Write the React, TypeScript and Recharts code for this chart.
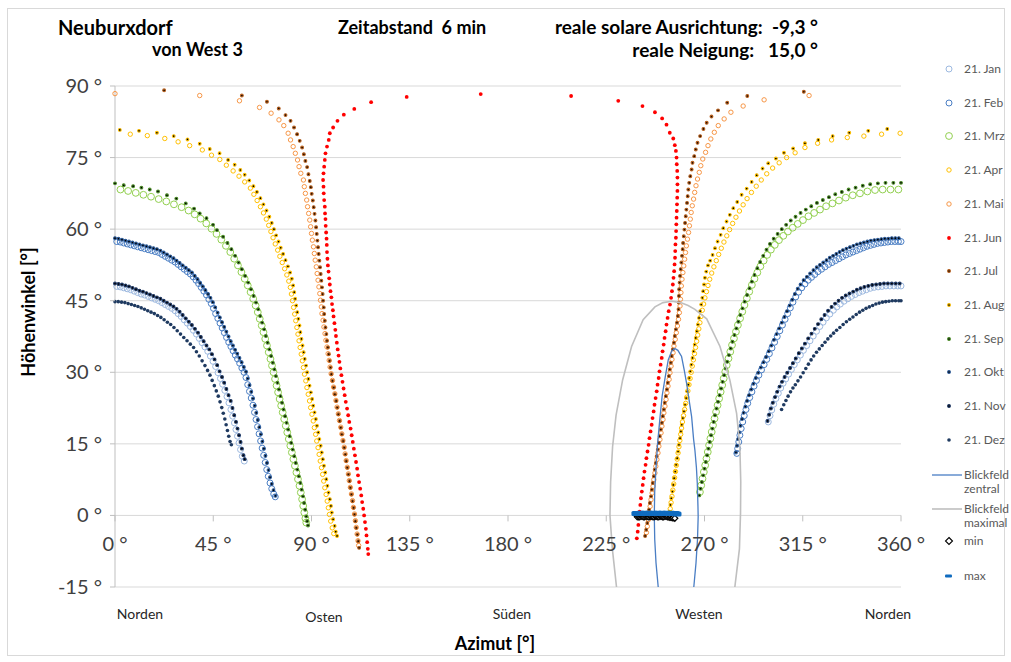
import React from 'react'
import { ScatterChart, Scatter, XAxis, YAxis, CartesianGrid } from 'recharts'

const FONT = 'Lato, "Open Sans", "Liberation Sans", sans-serif'

const azTicks = [0, 45, 90, 135, 180, 225, 270, 315, 360]
const elTicks = [-15, 0, 15, 30, 45, 60, 75, 90]
const directions = ['Norden', 'Osten', 'Süden', 'Westen', 'Norden']

// [azimut, höhenwinkel]
const jan = [
  [0.8,48.0],[2.4,47.9],[4,47.7],[5.6,47.5],[7.2,47.3],[8.8,47.0],[10.4,46.7],[12,46.4],[13.6,46.2],[15.2,45.9],[16.8,45.6],[18.4,45.3],[20,45.0],[21.5,44.6],[23,44.2],[24.5,43.8],[26,43.4],[27.5,42.9],[28.9,42.3],[30.3,41.7],[31.7,41.0],[33.1,40.3],[34.5,39.6],[35.9,38.8],[37.3,38.0],[38.6,37.1],[39.9,36.2],[41.2,35.3],[42.5,34.4],[43.7,33.4],[44.9,32.3],[46.1,31.2],[47.2,29.9],[48.3,28.7],[49.3,27.5],[50.3,26.2],[51.3,24.9],[52.2,23.6],[53.1,22.2],[53.9,20.8],[54.7,19.4],[55.4,18.0],[56.1,16.6],[56.8,15.2],[57.5,13.8],[58.3,12.4],[59.2,11.4],
  [299.2,19.6],[300,20.9],[300.8,22.1],[301.7,23.3],[302.7,24.5],[303.8,25.6],[304.9,26.7],[306,27.7],[307.2,28.6],[308.5,29.6],[309.8,30.6],[311.1,31.6],[312.5,32.6],[313.9,33.6],[315.3,34.6],[316.8,35.6],[318.3,36.6],[319.8,37.6],[321.3,38.6],[322.8,39.6],[324.3,40.5],[325.8,41.4],[327.4,42.2],[329,43.0],[330.6,43.7],[332.2,44.3],[333.9,44.9],[335.6,45.4],[337.3,45.9],[339,46.3],[340.7,46.7],[342.4,47.0],[344.1,47.3],[345.9,47.6],[347.7,47.8],[349.5,47.9],[351.3,48.0],[353.1,48.1],[354.9,48.1],[356.7,48.1],[358.5,48.1],[360,48.1],
]
const feb = [
  [0.8,57.4],[2.4,57.3],[4,57.1],[5.6,56.9],[7.2,56.7],[8.8,56.5],[10.4,56.3],[12,56.1],[13.6,55.9],[15.2,55.7],[16.8,55.5],[18.4,55.3],[20,55.1],[21.5,54.7],[23,54.3],[24.5,53.9],[26,53.5],[27.5,53.1],[28.9,52.6],[30.3,52.1],[31.7,51.6],[33.1,51.1],[34.5,50.6],[35.8,50.0],[37.1,49.3],[38.3,48.6],[39.5,47.8],[40.7,47.0],[41.9,46.2],[43,45.3],[44.1,44.4],[45.1,43.4],[46.1,42.3],[47.1,41.3],[48.1,40.3],[49.1,39.3],[50.1,38.3],[51.1,37.3],[52.1,36.3],[53.1,35.4],[54.1,34.5],[55.1,33.6],[56.1,32.8],[57.1,31.9],[58.1,30.9],[59.1,30.0],[60,28.9],[60.8,27.4],[61.6,26.0],[62.4,24.6],[63.2,23.1],[63.9,21.6],[64.6,20.1],[65.3,18.6],[66,17.1],[66.7,15.6],[67.4,14.1],[68.1,12.6],[68.8,11.1],[69.5,9.6],[70.2,8.2],[71,6.8],[71.8,5.6],[72.7,4.5],[73.4,3.9],
  [284.8,13.0],[285.2,14.0],[285.7,15.4],[286.2,16.8],[286.8,18.2],[287.5,19.6],[288.2,20.9],[289,22.2],[289.8,23.5],[290.7,24.7],[291.7,25.9],[292.7,27.1],[293.8,28.3],[294.9,29.4],[296.1,30.5],[297.3,31.6],[298.5,32.7],[299.7,33.9],[300.9,35.1],[302.1,36.3],[303.3,37.5],[304.5,38.7],[305.7,39.9],[306.9,41.1],[308.1,42.3],[309.3,43.5],[310.5,44.7],[311.8,45.8],[313.1,46.8],[314.5,47.7],[316,48.5],[317.5,49.3],[319,49.9],[320.5,50.5],[322,51.1],[323.6,51.6],[325.2,52.1],[326.8,52.6],[328.4,53.0],[330,53.4],[331.6,53.8],[333.2,54.2],[334.8,54.6],[336.4,54.9],[338,55.2],[339.6,55.5],[341.2,55.8],[342.8,56.1],[344.4,56.4],[346,56.6],[347.6,56.8],[349.2,57.0],[350.8,57.1],[352.4,57.2],[354,57.3],[355.6,57.4],[357.2,57.4],[358.8,57.4],[360,57.4],
]
const mrz = [
  [2.5,68.3],[6,68.0],[9.5,67.6],[13,67.2],[16.5,66.8],[20,66.3],[23.5,65.8],[27,65.2],[30.5,64.6],[33.7,63.9],[36.5,63.1],[39.2,62.2],[41.8,61.2],[44.2,60.1],[46.5,59.0],[48.7,57.8],[50.8,56.5],[52.8,55.2],[54.6,53.8],[56.3,52.4],[57.9,51.0],[59.4,49.6],[60.8,48.2],[62.1,46.8],[63.3,45.4],[64.4,44.0],[65.4,42.6],[66.3,41.2],[67.2,39.8],[68,38.4],[68.8,37.0],[69.6,35.6],[70.4,34.2],[71.2,32.8],[71.9,31.4],[72.6,30.0],[73.3,28.6],[74,27.2],[74.7,25.8],[75.4,24.4],[76.1,23.0],[76.8,21.6],[77.5,20.2],[78.2,18.8],[78.9,17.4],[79.6,16.0],[80.3,14.6],[81,13.2],[81.7,11.8],[82.4,10.4],[83.1,9.0],[83.8,7.6],[84.5,6.2],[85.1,4.8],[85.7,3.4],[86.2,2.0],[86.7,0.6],[87.2,-0.6],[87.6,-1.5],
  [267.9,4.9],[268.5,6.3],[269.1,7.7],[269.7,9.1],[270.3,10.5],[270.9,11.9],[271.5,13.3],[272.1,14.7],[272.7,16.1],[273.3,17.5],[273.9,18.9],[274.6,20.3],[275.3,21.7],[276,23.1],[276.7,24.5],[277.4,25.9],[278.1,27.3],[278.8,28.7],[279.5,30.1],[280.2,31.5],[281,32.9],[281.8,34.3],[282.6,35.7],[283.5,37.1],[284.4,38.5],[285.3,39.9],[286.3,41.3],[287.3,42.7],[288.3,44.1],[289.4,45.5],[290.5,46.9],[291.7,48.3],[292.9,49.6],[294.2,50.9],[295.6,52.2],[297.1,53.4],[298.7,54.6],[300.4,55.7],[302.2,56.7],[304.1,57.7],[306.1,58.6],[308.2,59.5],[310.4,60.3],[312.7,61.1],[315.1,61.9],[317.6,62.7],[320.2,63.4],[322.9,64.1],[325.7,64.8],[328.6,65.4],[331.6,66.0],[334.7,66.6],[337.9,67.1],[341.2,67.5],[344.6,67.9],[348.1,68.2],[351.6,68.3],[355.2,68.3],[358.8,68.3],
]
const apr = [
  [7,79.9],[14.8,79.6],[22.8,79.0],[28.9,78.3],[34.2,77.5],[40,76.6],[44.2,75.5],[48,74.6],[51,73.4],[54.1,72.2],[56.8,71.1],[59.4,69.9],[62,68.6],[63.6,67.3],[65.1,66.0],[66.6,64.7],[68,63.4],[69.3,62.1],[70.4,60.8],[71.4,59.5],[72.4,58.2],[73.4,56.9],[74.5,55.6],[75.5,54.3],[76.6,53.0],[77.7,51.7],[78.7,50.4],[79.6,49.1],[80.3,47.8],[80.8,46.4],[81.3,45.0],[81.8,43.6],[82.3,42.2],[82.8,40.8],[83.3,39.4],[83.8,38.0],[84.3,36.6],[84.8,35.2],[85.3,33.8],[85.8,32.4],[86.3,31.0],[86.8,29.6],[87.4,28.2],[87.9,26.8],[88.5,25.4],[89.1,24.0],[89.6,22.6],[90.2,21.2],[90.8,19.8],[91.3,18.4],[91.9,17.0],[92.4,15.6],[93,14.2],[93.5,12.8],[94,11.4],[94.6,10.0],[95.1,8.6],[95.6,7.2],[96.1,5.8],[96.7,4.4],[97.2,3.0],[97.7,1.6],[98.2,0.2],[98.8,-1.2],[99.5,-2.6],[100.2,-3.8],
  [253.9,0.1],[254.3,1.4],[254.7,2.7],[255.1,4.0],[255.5,5.3],[255.9,6.6],[256.3,7.9],[256.7,9.2],[257.1,10.5],[257.5,11.8],[257.9,13.1],[258.3,14.4],[258.7,15.7],[259.1,17.0],[259.5,18.3],[259.9,19.6],[260.4,20.9],[260.9,22.2],[261.4,23.5],[261.9,24.8],[262.4,26.1],[262.9,27.4],[263.4,28.7],[263.9,30.0],[264.4,31.3],[264.9,32.6],[265.4,33.9],[265.9,35.2],[266.4,36.5],[266.9,37.8],[267.4,39.1],[267.9,40.4],[268.4,41.7],[269,43.0],[269.6,44.3],[270.2,45.6],[270.9,46.9],[271.6,48.2],[272.4,49.5],[273.3,50.8],[274.3,52.1],[275.4,53.4],[276.5,54.7],[277.7,56.0],[278.9,57.3],[280.2,58.6],[281.5,59.9],[282.9,61.2],[284.4,62.5],[286,63.8],[287.7,65.1],[289.5,66.4],[291.5,67.7],[293.7,69.0],[296,70.3],[298.5,71.6],[301.2,72.8],[304.2,73.9],[307.6,75.0],[311.5,76.0],[316,77.1],[321.8,78.0],[328.2,78.7],[335.4,79.2],[343,79.5],[351.1,79.9],[359.6,80.1],
]
const mai = [
  [0,88.4],[38.8,88.0],[57,86.9],[66.2,85.5],[71.5,84.3],[75.1,82.9],[77.3,81.7],[79.3,80.1],[80.4,78.7],[81.6,77.3],[82.6,75.9],[83.6,74.5],[84.3,73.1],[85.1,71.7],[86.3,70.3],[86.7,68.9],[87.2,67.5],[87.8,66.1],[88.2,64.7],[88.7,63.3],[89.2,61.9],[89.6,60.5],[90,59.1],[90.4,57.7],[90.9,56.3],[91.3,54.9],[91.7,53.5],[92.2,52.1],[92.6,50.7],[93,49.3],[93.4,47.9],[93.8,46.5],[94.1,45.1],[94.5,43.7],[94.8,42.3],[95.3,40.9],[95.7,39.5],[96.2,38.1],[96.6,36.7],[97.1,35.3],[97.6,33.9],[98.1,32.5],[98.5,31.1],[99,29.7],[99.6,28.3],[100.1,26.9],[100.7,25.5],[101.2,24.1],[101.7,22.7],[102.3,21.3],[102.8,19.9],[103.4,18.5],[103.9,17.1],[104.4,15.7],[105,14.3],[105.4,12.9],[105.9,11.5],[106.4,10.1],[106.9,8.7],[107.3,7.3],[107.8,5.9],[108.3,4.5],[108.8,3.1],[109.2,1.7],[109.7,0.3],[110.1,-1.1],[110.5,-2.5],[110.9,-3.9],[111.3,-5.3],[111.6,-6.3],
  [243.4,-3.6],[243.8,-2.3],[244.3,-0.9],[244.7,0.5],[245.1,1.9],[245.5,3.3],[246,4.7],[246.4,6.1],[246.8,7.5],[247.3,8.9],[247.7,10.3],[248.2,11.7],[248.7,13.1],[249.1,14.5],[249.6,15.9],[250.1,17.3],[250.5,18.7],[251,20.1],[251.4,21.5],[251.9,22.9],[252.4,24.3],[252.8,25.7],[253.3,27.1],[253.8,28.5],[254.2,29.9],[254.7,31.3],[255.1,32.7],[255.6,34.1],[256,35.5],[256.6,36.9],[257.1,38.3],[257.6,39.7],[258.1,41.1],[258.5,42.5],[258.8,43.9],[259,45.3],[259.2,46.7],[259.4,48.1],[259.7,49.5],[260.1,50.9],[260.5,52.3],[260.9,53.7],[261.3,55.1],[261.7,56.5],[262.2,57.9],[262.7,59.3],[263.1,60.7],[263.5,62.1],[263.9,63.5],[264.4,64.9],[265,66.3],[265.5,67.7],[266.1,69.1],[266.8,70.5],[267.6,71.9],[268.3,73.3],[269.2,74.7],[270.5,76.1],[271.6,77.5],[272.9,78.9],[274.5,80.3],[276.3,81.7],[279,83.1],[282.1,84.5],[287.7,85.8],[297.3,87.1],[317.9,88.0],
]
const jun = [
  [167.5,88.3],[133.6,87.7],[117.3,86.6],[109.6,85.2],[104.8,84.0],[101.9,82.7],[99.9,81.3],[98.4,80.1],[97.9,78.7],[97.1,77.3],[96.4,75.9],[96.1,74.5],[95.8,73.1],[95.5,71.7],[95.3,70.3],[95.5,68.9],[95.6,67.5],[95.8,66.1],[96.1,64.7],[96.2,63.3],[96.4,62.1],[96.5,60.7],[96.7,59.3],[96.9,58.0],[97,56.7],[97.1,55.2],[97.3,53.8],[97.5,52.4],[97.8,51.1],[98.1,49.7],[98.4,48.4],[98.7,47.0],[99.1,45.7],[99.4,44.3],[99.8,43.0],[100.1,41.7],[100.5,40.3],[100.9,38.9],[101.2,37.6],[101.6,36.2],[102,34.8],[102.4,33.5],[102.8,32.2],[103.2,30.8],[103.7,29.4],[104.2,28.0],[104.7,26.6],[105.2,25.2],[105.7,23.8],[106.3,22.4],[106.8,21.0],[107.3,19.6],[107.9,18.2],[108.4,16.8],[108.9,15.4],[109.4,14.0],[109.9,12.6],[110.4,11.2],[110.9,9.8],[111.3,8.4],[111.8,7.0],[112.3,5.6],[112.8,4.2],[113.2,2.8],[113.7,1.4],[114.1,0],[114.5,-1.4],[114.9,-2.8],[115.2,-4.2],[115.5,-5.6],[115.8,-7.0],[116,-8.1],
  [239,-4.8],[239.4,-3.4],[239.7,-2.0],[240,-0.6],[240.3,0.8],[240.6,2.2],[240.9,3.6],[241.3,5.0],[241.7,6.4],[242.1,7.8],[242.5,9.2],[243,10.6],[243.4,12.0],[243.9,13.4],[244.4,14.8],[244.8,16.2],[245.3,17.6],[245.8,19.0],[246.2,20.4],[246.7,21.8],[247.1,23.2],[247.6,24.6],[248.1,26.0],[248.5,27.4],[249,28.8],[249.4,30.2],[249.9,31.6],[250.4,33.0],[250.8,34.4],[251.3,35.8],[251.7,37.2],[252.2,38.6],[252.6,40.0],[253.1,41.4],[253.6,42.8],[254.2,44.2],[254.7,45.6],[255.1,47.0],[255.5,48.4],[255.8,49.8],[256.1,51.2],[256.3,52.6],[256.5,54.0],[256.6,55.4],[256.7,56.8],[256.9,58.2],[257,59.6],[257.1,61.0],[257.2,62.4],[257.3,63.8],[257.4,65.2],[257.5,66.6],[257.6,68.0],[257.6,69.4],[257.6,70.8],[257.5,72.2],[257.3,73.6],[257.2,75.0],[256.9,76.4],[256.4,77.6],[255.7,79.0],[254.1,80.2],[252.6,81.9],[250.6,83.2],[247.3,84.5],[241.6,85.8],[230.5,86.9],[208.9,87.9],
]
const jul = [
  [22.5,89.1],[58.1,88.0],[69.6,86.7],[75,85.3],[78.1,83.9],[80.4,82.7],[82,81.3],[83.4,79.9],[84.6,78.5],[85.7,77.1],[86.5,75.7],[87.2,74.3],[88,73.0],[88.6,71.5],[89.2,70.1],[89.7,68.8],[90.1,67.4],[90.6,66.0],[91,64.6],[91.4,63.2],[91.8,61.8],[92.1,60.4],[92.4,59.0],[92.7,57.6],[93,56.2],[93.3,54.8],[93.6,53.4],[93.9,52.0],[94.2,50.6],[94.5,49.2],[94.8,47.8],[95.1,46.4],[95.3,45.0],[95.6,43.6],[95.8,42.2],[96.1,40.8],[96.4,39.4],[96.8,38.0],[97.1,36.6],[97.5,35.2],[97.9,33.8],[98.3,32.4],[98.7,31.0],[99.1,29.6],[99.6,28.2],[100.2,26.8],[100.7,25.4],[101.3,24.0],[101.8,22.6],[102.3,21.2],[102.9,19.8],[103.4,18.4],[103.9,17.0],[104.5,15.6],[105,14.2],[105.5,12.8],[105.9,11.4],[106.4,10.0],[106.9,8.6],[107.4,7.2],[107.8,5.8],[108.3,4.4],[108.8,3.0],[109.3,1.6],[109.7,0.2],[110.1,-1.2],[110.5,-2.6],[111,-4.0],[111.4,-5.4],[111.8,-6.8],
  [242.8,-4.3],[243.3,-3.0],[243.8,-1.6],[244.2,-0.2],[244.6,1.2],[245,2.6],[245.5,4.0],[245.9,5.4],[246.3,6.8],[246.8,8.2],[247.2,9.6],[247.7,11.0],[248.1,12.4],[248.6,13.8],[249.1,15.2],[249.5,16.6],[250,18.0],[250.5,19.4],[250.9,20.8],[251.4,22.2],[251.8,23.6],[252.3,25.0],[252.8,26.4],[253.2,27.8],[253.7,29.2],[254.1,30.6],[254.6,32.0],[255,33.4],[255.5,34.8],[256,36.2],[256.4,37.6],[256.9,39.0],[257.4,40.4],[257.8,41.8],[258.1,43.2],[258.2,44.6],[258.3,46.0],[258.4,47.4],[258.6,48.8],[258.8,50.2],[259.1,51.6],[259.4,53.0],[259.7,54.4],[260,55.8],[260.2,57.1],[260.5,58.5],[260.8,59.9],[261.1,61.3],[261.4,62.7],[261.7,64.1],[262,65.5],[262.3,66.9],[262.6,68.3],[263,69.7],[263.5,71.1],[264.1,72.5],[264.5,73.9],[265.3,75.3],[266,76.7],[266.8,78.1],[268,79.5],[269.5,81.0],[271,82.3],[273.2,83.6],[276.2,84.9],[280.4,86.5],[289.6,87.9],[315.5,88.8],
]
const aug = [
  [2.2,80.8],[11,80.6],[19.2,80.2],[26.9,79.5],[33.2,78.8],[38.8,77.9],[43.4,76.8],[47.9,75.9],[51.8,74.5],[54.8,73.5],[57.4,72.4],[59.4,71.4],[61.5,70.2],[63.4,69.0],[65,67.8],[66.6,66.5],[68,65.2],[69.4,63.9],[70.7,62.6],[71.8,61.3],[72.8,60.0],[73.8,58.7],[74.9,57.4],[75.9,56.1],[77,54.8],[78.1,53.5],[79.2,52.2],[80.2,50.9],[81,49.6],[81.6,48.2],[82.1,46.8],[82.5,45.4],[83,44.0],[83.5,42.6],[84,41.2],[84.5,39.8],[84.9,38.4],[85.4,37.0],[85.9,35.6],[86.4,34.2],[86.9,32.8],[87.5,31.4],[88,30.0],[88.6,28.6],[89.1,27.2],[89.7,25.8],[90.3,24.4],[90.8,23.0],[91.4,21.6],[92,20.2],[92.5,18.8],[93.1,17.4],[93.6,16.0],[94.2,14.6],[94.7,13.2],[95.2,11.8],[95.7,10.4],[96.3,9.0],[96.8,7.6],[97.3,6.2],[97.8,4.8],[98.4,3.4],[98.9,2.0],[99.3,0.6],[99.9,-0.8],[100.6,-2.2],[101.1,-3.4],[101.7,-4.3],
  [253.5,-0.6],[254,0.8],[254.4,2.2],[254.8,3.6],[255.3,5.0],[255.7,6.4],[256.1,7.8],[256.6,9.2],[257,10.6],[257.5,12.0],[257.9,13.4],[258.3,14.8],[258.8,16.2],[259.2,17.6],[259.6,19.0],[260.1,20.4],[260.6,21.8],[261.1,23.2],[261.6,24.6],[262.1,26.0],[262.6,27.4],[263,28.8],[263.5,30.2],[264,31.6],[264.5,33.0],[265,34.4],[265.5,35.8],[266,37.2],[266.5,38.6],[267,40.0],[267.5,41.4],[268,42.8],[268.5,44.2],[269,45.6],[269.4,47.0],[269.8,48.4],[270.2,49.8],[270.8,51.1],[271.6,52.4],[272.6,53.4],[273.7,54.6],[274.8,56.0],[276,57.4],[277.4,58.8],[278.6,60.2],[280.1,61.6],[281.6,63.0],[283.2,64.4],[285,65.7],[287,67.2],[289.3,68.5],[291.6,69.9],[293.9,71.3],[296.6,72.7],[299.2,73.8],[302.7,74.8],[306.4,76.0],[310.6,76.9],[316,78.0],[322.1,78.7],[328.7,79.5],[336.3,80.2],[345,80.6],[353.7,81.0],
]
const sep = [
  [0,69.6],[4,69.2],[8.3,69.0],[12.1,68.7],[15.9,68.3],[19.7,67.9],[23.8,67.1],[28.1,66.4],[32.4,65.4],[36.2,64.3],[38.8,63.3],[41.9,62.3],[44.9,60.9],[46.7,59.8],[49.5,58.4],[51.5,57.1],[53.3,55.8],[55,54.4],[56.6,53.0],[58.1,51.6],[59.6,50.2],[61,48.8],[62.3,47.4],[63.5,46.0],[64.6,44.6],[65.6,43.2],[66.5,41.8],[67.4,40.4],[68.3,39.0],[69.1,37.6],[69.9,36.2],[70.7,34.8],[71.5,33.4],[72.3,32.0],[73,30.6],[73.7,29.2],[74.4,27.8],[75.1,26.4],[75.8,25.0],[76.5,23.6],[77.2,22.2],[77.9,20.8],[78.6,19.4],[79.3,18.0],[80,16.6],[80.7,15.2],[81.4,13.8],[82.1,12.4],[82.8,11.0],[83.5,9.6],[84.2,8.2],[84.9,6.8],[85.5,5.4],[86.1,4.0],[86.6,2.6],[87.1,1.2],[87.6,-0.2],[88,-1.2],[88.4,-2.1],
  [267.6,4.2],[268.2,5.6],[268.8,7.0],[269.4,8.4],[270,9.8],[270.6,11.2],[271.2,12.6],[271.8,14.0],[272.4,15.4],[273,16.8],[273.6,18.2],[274.2,19.6],[274.8,21.0],[275.5,22.4],[276.2,23.8],[276.9,25.2],[277.6,26.6],[278.3,28.0],[279,29.4],[279.7,30.8],[280.4,32.2],[281.2,33.6],[282,35.0],[282.8,36.4],[283.7,37.8],[284.6,39.2],[285.5,40.6],[286.4,42.0],[287.4,43.4],[288.4,44.8],[289.5,46.2],[290.6,47.6],[291.7,49.0],[292.9,50.4],[294.2,51.8],[295.5,53.1],[296.9,54.4],[298.4,55.7],[300,56.9],[301.7,58.0],[303.5,59.0],[305.4,60.0],[307.4,60.9],[309.5,61.8],[311.7,62.6],[314,63.4],[316.4,64.1],[318.9,64.8],[321.5,65.5],[324.2,66.1],[327,66.7],[329.9,67.3],[332.9,67.8],[336,68.3],[339.2,68.7],[342.5,69.1],[345.9,69.4],[349.4,69.6],[352.9,69.7],[356.5,69.7],[360,69.7],
]
const okt = [
  [0,58.1],[1.6,58.0],[3.2,57.8],[4.8,57.6],[6.4,57.4],[8,57.2],[9.6,57.0],[11.2,56.8],[12.8,56.6],[14.4,56.4],[16,56.2],[17.6,56.0],[19.2,55.8],[20.8,55.5],[22.3,55.1],[23.8,54.7],[25.3,54.3],[26.8,53.9],[28.2,53.4],[29.6,52.9],[31,52.4],[32.4,51.9],[33.8,51.4],[35.2,50.9],[36.5,50.2],[37.8,49.5],[39,48.7],[40.2,48.0],[41.4,47.2],[42.6,46.4],[43.7,45.6],[44.8,44.7],[45.9,43.6],[47,42.5],[48,41.5],[49,40.5],[50,39.5],[51,38.5],[52,37.5],[53,36.5],[54,35.6],[55,34.7],[56,33.9],[57,33.0],[58,32.1],[59,31.1],[60,30.1],[60.8,28.7],[61.6,27.3],[62.4,25.9],[63.2,24.5],[64,23.0],[64.7,21.5],[65.4,20.0],[66.1,18.5],[66.8,17.0],[67.5,15.5],[68.2,14.0],[68.9,12.5],[69.6,11.0],[70.3,9.5],[71,8.0],[71.8,6.6],[72.6,5.3],[73.5,4.1],
  [284.4,13.2],[284.9,14.6],[285.4,16.0],[285.9,17.4],[286.5,18.8],[287.2,20.2],[287.9,21.5],[288.7,22.8],[289.5,24.0],[290.4,25.2],[291.4,26.4],[292.4,27.6],[293.5,28.8],[294.6,29.9],[295.8,31.0],[297,32.1],[298.2,33.2],[299.4,34.4],[300.6,35.6],[301.8,36.8],[303,38.0],[304.2,39.2],[305.4,40.4],[306.6,41.6],[307.8,42.8],[309,44.0],[310.2,45.2],[311.4,46.4],[312.7,47.5],[314,48.4],[315.4,49.3],[316.9,50.0],[318.4,50.7],[319.9,51.4],[321.4,52.0],[322.9,52.5],[324.4,53.0],[325.9,53.5],[327.4,54.0],[328.9,54.4],[330.4,54.8],[331.9,55.2],[333.4,55.6],[335,55.9],[336.6,56.2],[338.2,56.5],[339.8,56.8],[341.4,57.0],[343,57.2],[344.6,57.4],[346.2,57.6],[347.8,57.7],[349.4,57.8],[351,57.9],[352.6,58.0],[354.2,58.0],[355.8,58.1],[357.4,58.1],[359,58.1],
]
const nov = [
  [0,48.6],[1.6,48.5],[3.2,48.4],[4.8,48.2],[6.4,48.0],[8,47.7],[9.6,47.4],[11.2,47.1],[12.8,46.9],[14.4,46.6],[16,46.3],[17.6,46.0],[19.2,45.7],[20.8,45.4],[22.3,45.0],[23.8,44.6],[25.3,44.2],[26.8,43.8],[28.2,43.3],[29.6,42.7],[31,42.0],[32.4,41.3],[33.8,40.6],[35.2,39.9],[36.6,39.1],[38,38.3],[39.3,37.4],[40.6,36.5],[41.9,35.6],[43.2,34.8],[44.4,33.8],[45.6,32.7],[46.8,31.5],[47.9,30.2],[49,29.0],[50,27.8],[51,26.5],[52,25.2],[53,24.0],[53.8,22.5],[54.6,21.0],[55.4,19.6],[56.1,18.2],[56.8,16.8],[57.5,15.4],[58.1,14.0],[58.8,12.6],[59.4,11.8],
  [298.9,19.8],[299.6,21.1],[300.4,22.4],[301.3,23.6],[302.3,24.8],[303.3,25.9],[304.4,27.0],[305.5,28.0],[306.7,29.0],[307.9,29.9],[309.2,30.9],[310.5,31.9],[311.8,32.9],[313.2,34.0],[314.6,35.0],[316,36.0],[317.5,37.1],[319,38.1],[320.5,39.1],[322,40.1],[323.5,41.1],[325,42.0],[326.6,42.9],[328.2,43.7],[329.8,44.4],[331.4,45.0],[333,45.6],[334.7,46.1],[336.4,46.5],[338.1,46.9],[339.8,47.3],[341.5,47.6],[343.2,47.9],[345,48.1],[346.8,48.3],[348.6,48.4],[350.4,48.5],[352.2,48.6],[354,48.6],[355.8,48.6],[357.6,48.6],[359.4,48.6],
]
const dez = [
  [0,44.8],[1.5,44.8],[3,44.7],[4.5,44.6],[6,44.4],[7.5,44.2],[9,44.0],[10.5,43.8],[12,43.5],[13.5,43.2],[15,42.9],[16.5,42.6],[18,42.3],[19.5,41.9],[21,41.5],[22.5,41.0],[24,40.5],[25.5,40.0],[27,39.4],[28.5,38.7],[30,38.0],[31.5,37.3],[33,36.6],[34.5,35.9],[36,35.2],[37.3,34.3],[38.6,33.4],[39.9,32.4],[41.2,31.4],[42.4,30.4],[43.5,29.4],[44.5,28.3],[45.5,27.2],[46.4,26.1],[47.3,25.0],[48.1,23.8],[48.9,22.6],[49.6,21.4],[50.3,20.2],[50.9,19.0],[51.5,17.8],[52.1,16.6],[52.7,15.5],[53.3,14.8],
  [305.3,22.2],[306.3,23.2],[307.3,24.1],[308.3,25.0],[309.4,25.9],[310.5,26.7],[311.6,27.4],[312.8,28.2],[314,29.0],[315.2,29.9],[316.4,30.8],[317.6,31.7],[318.8,32.6],[320,33.4],[321.3,34.2],[322.6,34.9],[323.9,35.6],[325.2,36.3],[326.5,37.0],[327.8,37.6],[329.1,38.2],[330.5,38.8],[332,39.4],[333.5,40.0],[335,40.6],[336.5,41.1],[338,41.6],[339.5,42.1],[341,42.6],[342.5,43.0],[344,43.4],[345.5,43.7],[347,44.0],[348.5,44.3],[350,44.5],[351.5,44.7],[353,44.8],[354.5,44.9],[356,45.0],[357.5,45.0],[359,45.0],[360,45.0],
]
const blickZentral = [
  [248.8,-15],[247.8,-10],[247.2,-5],[247,0],[247.2,5],[247.8,10],[248.5,15],[249.5,20],[250.6,25],[252,29],[253.4,32.6],[255,34.5],[256.4,35],[257.8,34.6],[259.5,33.3],[260.7,30.5],[261.8,27.7],[263,24],[264.1,20.7],[265,16],[265.6,13.7],[266.3,10],[266.7,6.7],[267,2],[267.1,-0.3],[266.8,-5],[266.1,-10],[265.1,-15],
]
const blickMaximal = [
  [229.7,-15],[227.8,-7],[226.7,0],[227,7],[227.9,14.4],[229.5,21],[232.5,28.4],[236.6,35.4],[241.9,41],[247.3,43.7],[251,44.6],[255,44.9],[259,44.6],[262.5,44],[265.6,43.2],[271,41.2],[277.1,35.4],[281.6,28.4],[284.7,21.4],[286.2,14.4],[286.6,7],[286.5,0.5],[286,-7],[283.9,-15],
]
const minPts = [
  [239.2,-0.3],[239.8,-0.3],[240.3,-0.3],[240.9,-0.2],[241.4,-0.2],[242,-0.3],[242.5,-0.3],[243.1,-0.2],[243.6,-0.2],[244.2,-0.3],[244.7,-0.3],[245.3,-0.2],[245.8,-0.2],[246.4,-0.3],[246.9,-0.3],[247.5,-0.2],[248,-0.2],[248.6,-0.3],[249.1,-0.3],[249.7,-0.2],[250.2,-0.2],[250.8,-0.3],[251.3,-0.3],[251.9,-0.2],[252.4,-0.2],[253,-0.3],[253.5,-0.3],[254.1,-0.4],[254.6,-0.4],[255.2,-0.5],[255.7,-0.5],[256.4,-0.6],
]
const maxPts = [
  [238.6,0.4],[239.6,0.4],[240.6,0.5],[241.6,0.4],[242.6,0.5],[243.6,0.4],[244.6,0.5],[245.6,0.4],[246.6,0.5],[247.6,0.4],[248.6,0.5],[249.6,0.4],[250.6,0.5],[251.6,0.4],[252.6,0.5],[253.6,0.4],[254.6,0.5],[255.6,0.4],[256.6,0.4],[257.4,0.3],
]

const pts = (a: number[][]) => a.map(([x, y]) => ({ x, y }))

const months = [
  { name: '21. Jan', data: jan, r: 3, fill: 'none', stroke: '#9DB9E0', sw: 1 },
  { name: '21. Feb', data: feb, r: 3, fill: 'none', stroke: '#4A7EC4', sw: 1 },
  { name: '21. Mrz', data: mrz, r: 3.4, fill: 'none', stroke: '#92D050', sw: 1 },
  { name: '21. Apr', data: apr, r: 2.2, fill: 'none', stroke: '#FFC000', sw: 1 },
  { name: '21. Mai', data: mai, r: 2.2, fill: 'none', stroke: '#F79646', sw: 1 },
  { name: '21. Jun', data: jun, r: 1.9, fill: '#FF0000', stroke: 'none', sw: 0 },
  { name: '21. Jul', data: jul, r: 1.4, fill: '#1A0D00', stroke: '#B8601E', sw: 1.1 },
  { name: '21. Aug', data: aug, r: 1.4, fill: '#000', stroke: '#FFC000', sw: 1.1 },
  { name: '21. Sep', data: sep, r: 1.4, fill: '#000', stroke: '#4E8F2A', sw: 1.1 },
  { name: '21. Okt', data: okt, r: 1.4, fill: '#000', stroke: '#2E5C9A', sw: 1.1 },
  { name: '21. Nov', data: nov, r: 1.4, fill: '#000', stroke: '#1F3864', sw: 1.1 },
  { name: '21. Dez', data: dez, r: 1.8, fill: '#1F3A60', stroke: 'none', sw: 0 },
]

const ZERO_UP = 71.6 // px from plot bottom (-15°) to the 0° line

const dotShape = (r: number, fill: string, stroke: string, sw: number) => (p: any) =>
  <circle cx={p.cx} cy={p.cy} r={r} fill={fill} stroke={stroke} strokeWidth={sw} />

const diamond = (p: any) => (
  <path d={`M${p.cx},${p.cy - 3}L${p.cx + 3},${p.cy}L${p.cx},${p.cy + 3}L${p.cx - 3},${p.cy}Z`} fill="#fff" stroke="#000" strokeWidth={1.2} />
)
const dash = (p: any) => <rect x={p.cx - 4.5} y={p.cy - 2.4} width={9} height={4.8} rx={1.5} fill="#0F6BBF" />
const noShape = () => <g />

function AzTick({ x, y, payload }: any) {
  const zy = y - ZERO_UP
  return (
    <g>
      <line x1={x} x2={x} y1={zy} y2={zy + 6} stroke="#BFBFBF" />
      <text x={x} y={zy + 36} textAnchor="middle" fontSize={20} fill="#404040" fontFamily={FONT}>
        {payload.value} °
      </text>
    </g>
  )
}

function ElTick({ x, y, payload }: any) {
  return (
    <g>
      <line x1={x - 5} x2={x} y1={y} y2={y} stroke="#BFBFBF" />
      <text x={x - 13} y={y + 7} textAnchor="end" fontSize={20} fill="#404040" fontFamily={FONT}>
        {payload.value} °
      </text>
    </g>
  )
}

function LegendMark({ m }: any) {
  return (
    <svg width={14} height={10} style={{ position: 'absolute', left: -22, top: 2 }}>
      <circle cx={7} cy={5} r={m.r} fill={m.fill} stroke={m.stroke} strokeWidth={m.sw} />
    </svg>
  )
}

function LegendLine({ color, width }: { color: string; width: number }) {
  return (
    <svg width={30} height={6} style={{ position: 'absolute', left: -32, top: 4 }}>
      <line x1={0} x2={30} y1={3} y2={3} stroke={color} strokeWidth={width} />
    </svg>
  )
}

export default function App() {
  const legendTop = 69
  const step = 33.7
  const lg: React.CSSProperties = { position: 'absolute', left: 964, fontSize: 12, color: '#595959', lineHeight: '14px', fontFamily: FONT, whiteSpace: 'nowrap' }
  return (
    <div style={{ position: 'absolute', left: 0, top: 0, width: 1011, height: 662, background: '#fff', fontFamily: FONT }}>
      <div style={{ position: 'absolute', left: 7, top: 8, width: 996, height: 646, border: '1px solid #D9D9D9' }} />
      <ScatterChart width={1011} height={662} margin={{ top: 86, right: 110, bottom: 45, left: 55 }}>
        <CartesianGrid vertical={false} stroke="#D9D9D9" />
        <XAxis type="number" dataKey="x" domain={[0, 360]} ticks={azTicks} interval={0} height={30}
          axisLine={false} tickLine={false} tickSize={0} tickMargin={0} tick={<AzTick />} />
        <YAxis type="number" dataKey="y" domain={[-15, 90]} ticks={elTicks} interval={0} width={60}
          axisLine={{ stroke: '#BFBFBF' }} tickLine={false} tickSize={0} tickMargin={0} tick={<ElTick />} />
        {months.map((m) => (
          <Scatter key={m.name} name={m.name} data={pts(m.data)} isAnimationActive={false}
            shape={dotShape(m.r, m.fill, m.stroke, m.sw)} />
        ))}
        <Scatter name="Blickfeld zentral" data={pts(blickZentral)} isAnimationActive={false}
          line={{ stroke: '#4A7EC4', strokeWidth: 1.3 }} shape={noShape} />
        <Scatter name="Blickfeld maximal" data={pts(blickMaximal)} isAnimationActive={false}
          line={{ stroke: '#BFBFBF', strokeWidth: 1.6 }} shape={noShape} />
        <Scatter name="min" data={pts(minPts)} isAnimationActive={false} shape={diamond} />
        <Scatter name="max" data={pts(maxPts)} isAnimationActive={false} shape={dash} />
      </ScatterChart>

      <svg width={1011} height={662} style={{ position: 'absolute', left: 0, top: 0, pointerEvents: 'none' }} fontFamily={FONT}>
        <text x={58} y={35} fontSize={20} fontWeight={700} fill="#000">Neuburxdorf</text>
        <text x={152} y={56} fontSize={18} fontWeight={700} fill="#000">von West 3</text>
        <text x={338} y={34} fontSize={18} fontWeight={700} fill="#000" style={{ whiteSpace: 'pre' }}>Zeitabstand  6 min</text>
        <text x={818} y={34} textAnchor="end" fontSize={19} fontWeight={700} fill="#000" style={{ whiteSpace: 'pre' }}>reale solare Ausrichtung:  -9,3 °</text>
        <text x={818} y={57} textAnchor="end" fontSize={19} fontWeight={700} fill="#000" style={{ whiteSpace: 'pre' }}>reale Neigung:   15,0 °</text>
        <text transform="translate(35,312) rotate(-90)" textAnchor="middle" fontSize={18} fontWeight={700} fill="#000">Höhenwinkel [°]</text>
        <text x={495} y={650} textAnchor="middle" fontSize={18} fontWeight={700} fill="#000">Azimut [°]</text>
        {directions.map((d, i) => (
          <text key={i} x={[140, 324, 512, 699, 888][i]} y={i === 1 ? 622 : 619} textAnchor="middle" fontSize={14} fill="#262626">{d}</text>
        ))}
      </svg>

      {months.map((m, i) => (
        <div key={m.name} style={{ ...lg, top: legendTop + i * step - 7 }}>
          <LegendMark m={m} />
          {m.name}
        </div>
      ))}
      <div style={{ ...lg, top: 468 }}>
        <LegendLine color="#4A7EC4" width={1.3} />
        Blickfeld<br />zentral
      </div>
      <div style={{ ...lg, top: 502 }}>
        <LegendLine color="#BFBFBF" width={1.6} />
        Blickfeld<br />maximal
      </div>
      <div style={{ ...lg, top: 541 - 7 }}>
        <svg width={10} height={10} style={{ position: 'absolute', left: -20, top: 2 }}>
          <path d="M5,1.5L8.5,5L5,8.5L1.5,5Z" fill="#fff" stroke="#000" strokeWidth={1.1} />
        </svg>
        min
      </div>
      <div style={{ ...lg, top: 576 - 7 }}>
        <svg width={10} height={10} style={{ position: 'absolute', left: -20, top: 2 }}>
          <rect x={1} y={3.5} width={7} height={3} rx={1} fill="#0F6BBF" />
        </svg>
        max
      </div>
    </div>
  )
}
